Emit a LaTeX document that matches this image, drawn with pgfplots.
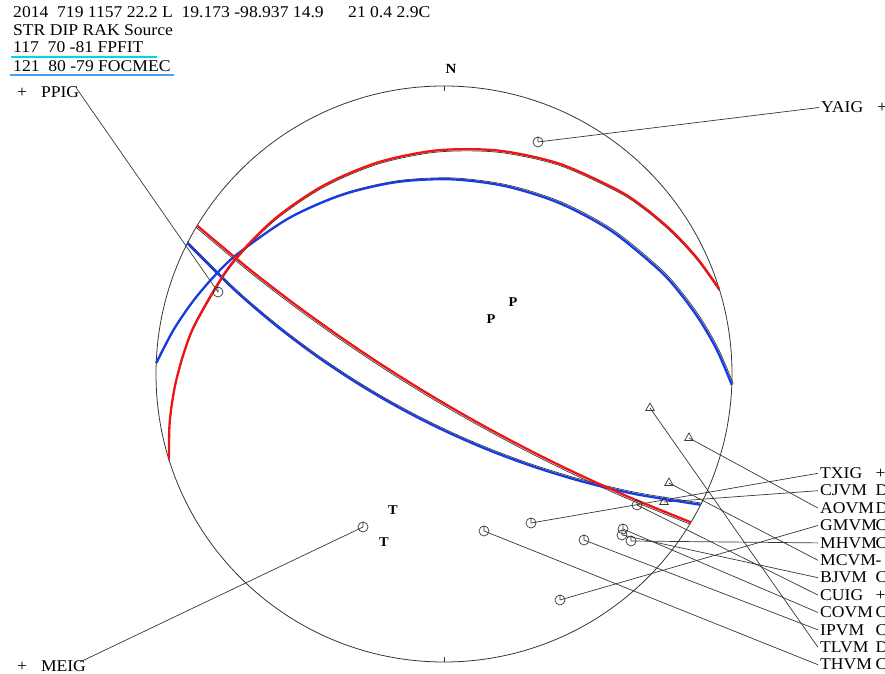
\documentclass[border=0pt]{standalone}
\usepackage{pgfplots}
\pgfplotsset{compat=1.18}
\usepackage{pgfplotstable}
\usepackage{fontspec}
\setmainfont{Liberation Serif}[FakeStretch=1.07]

\definecolor{solred}{RGB}{240,20,20}
\definecolor{solblue}{RGB}{25,60,225}
\definecolor{ulcyan}{RGB}{0,215,230}
\definecolor{ulblue}{RGB}{70,160,235}
\definecolor{netgray}{RGB}{55,55,55}

% Lower-hemisphere stereographic traces (E, N on the unit net)
% FPFIT  117/70/-81 : nodal plane and auxiliary plane (272/22)
\pgfplotstableread{
E N
 0.8910 -0.4540
 0.6599 -0.4162
 0.4721 -0.3712
 0.3125 -0.3223
 0.1715 -0.2707
 0.0423 -0.2159
-0.0801 -0.1571
-0.1995 -0.0927
-0.3198 -0.0203
-0.4445  0.0634
-0.5778  0.1638
-0.7246  0.2893
-0.8910  0.4540
}\fpfitA
\pgfplotstableread{
E N
-0.9993  0.0377
-0.9404  0.1512
-0.8720  0.2522
-0.7963  0.3412
-0.7148  0.4185
-0.5398  0.5403
-0.3549  0.6217
-0.1653  0.6662
 0.0255  0.6759
 0.2151  0.6517
 0.4007  0.5932
 0.5789  0.4981
 0.7443  0.3635
 0.8198  0.2803
 0.8886  0.1858
 0.9492  0.0798
 0.9993 -0.0377
}\fpfitB
% FOCMEC 121/80/-79 : nodal plane and auxiliary plane (253/15)
\pgfplotstableread{
E N
 0.8572 -0.5150
 0.6414 -0.4270
 0.4674 -0.3487
 0.3200 -0.2767
 0.1896 -0.2085
 0.0694 -0.1420
-0.0450 -0.0750
-0.1580 -0.0053
-0.2731  0.0694
-0.3945  0.1527
-0.5273  0.2490
-0.6782  0.3657
-0.8572  0.5150
}\focmecA
\pgfplotstableread{
E N
-0.9551 -0.2962
-0.9525 -0.1676
-0.9347 -0.0442
-0.9035  0.0725
-0.8602  0.1819
-0.7433  0.3756
-0.5939  0.5333
-0.4199  0.6535
-0.2280  0.7352
-0.0235  0.7765
 0.1880  0.7758
 0.4005  0.7302
 0.6063  0.6367
 0.7039  0.5711
 0.7957  0.4925
 0.8801  0.4008
 0.9551  0.2962
}\focmecB

% Stations: compressions (circles) and dilatations (triangles)
\pgfplotstableread{
E N
 0.3264  0.8056
-0.7847  0.2847
-0.2813 -0.5313
 0.3021 -0.5174
 0.4028 -0.7847
 0.6493 -0.5799
 0.6181 -0.5590
 0.6701 -0.4549
 0.6215 -0.5382
 0.4861 -0.5764
 0.1389 -0.5451
}\compr
\pgfplotstableread{
E N
 0.7639 -0.4444
 0.8507 -0.2222
 0.7813 -0.3785
 0.7153 -0.1181
}\dilat

\pgfdeclareplotmark{stn}{%
  \pgfpathcircle{\pgfpointorigin}{\pgfplotmarksize}%
  \pgfpathmoveto{\pgfpointorigin}%
  \pgfpathlineto{\pgfqpoint{0pt}{\pgfplotmarksize}}%
  \pgfusepathqstroke}

\begin{document}
\begin{tikzpicture}[font=\fontsize{16.5}{19}\selectfont,
  lbl/.style={anchor=west, inner sep=0pt, text height=10.5bp, text depth=0bp},
  hdr/.style={anchor=base west, inner sep=0pt},
  pt/.style={inner sep=0pt, font=\fontsize{13.5}{14}\selectfont\bfseries},
  stl/.style={netgray, line width=0.7bp, no marks}]
\path[use as bounding box] (0,0) rectangle (885bp,674bp);
\begin{axis}[
  at={(0,0)}, anchor=south west,
  x=288bp, y=288bp,
  xmin=-1.54167, xmax=1.53125, ymin=-1.04167, ymax=1.29861,
  hide axis, clip=false,
]
% header
\node[hdr] at (axis cs:-1.4965,1.2361) {2014\ \ 719 1157 22.2 L\ \ 19.173 -98.937 14.9};
\node[hdr] at (axis cs:-0.3333,1.2361) {21 0.4 2.9C};
\node[hdr] at (axis cs:-1.4965,1.1753) {STR DIP RAK Source};
\node[hdr] at (axis cs:-1.4965,1.1146) {117\ \ 70 -81 FPFIT};
\node[hdr] at (axis cs:-1.4965,1.0503) {121\ \ 80 -79 FOCMEC};
\draw[ulcyan, line width=2bp] (axis cs:-1.5035,1.1024) -- (axis cs:-0.9965,1.1024);
\draw[ulblue, line width=2bp] (axis cs:-1.5069,1.0399) -- (axis cs:-0.9375,1.0399);

% net
\draw[netgray, line width=0.8bp] (axis cs:0,0) circle[radius=288bp];
\draw[netgray, line width=0.8bp] (axis cs:0,1) -- (axis cs:0,0.984);
\draw[netgray, line width=0.8bp] (axis cs:0,-1) -- (axis cs:0,-0.982);
\node[anchor=base, inner sep=0pt, font=\fontsize{14}{14}\selectfont\bfseries] at (axis cs:0.0243,1.0451) {N};

% station rays to labels
\addplot[stl] coordinates {(0.3264,0.8056) (1.3021,0.9253)};
\addplot[stl] coordinates {(-0.7847,0.2847) (-1.2743,0.9896)};
\addplot[stl] coordinates {(-0.2813,-0.5313) (-1.2639,-1.0000)};
\addplot[stl] coordinates {(0.3021,-0.5174) (1.2986,-0.3448)};
\addplot[stl] coordinates {(0.7639,-0.4444) (1.2986,-0.4052)};
\addplot[stl] coordinates {(0.8507,-0.2222) (1.2986,-0.4656)};
\addplot[stl] coordinates {(0.4028,-0.7847) (1.2986,-0.5260)};
\addplot[stl] coordinates {(0.6493,-0.5799) (1.2986,-0.5865)};
\addplot[stl] coordinates {(0.7813,-0.3785) (1.2986,-0.6469)};
\addplot[stl] coordinates {(0.6181,-0.5590) (1.2986,-0.7073)};
\addplot[stl] coordinates {(0.6701,-0.4549) (1.2986,-0.7677)};
\addplot[stl] coordinates {(0.6215,-0.5382) (1.2986,-0.8281)};
\addplot[stl] coordinates {(0.4861,-0.5764) (1.2986,-0.8885)};
\addplot[stl] coordinates {(0.7153,-0.1181) (1.2986,-0.9490)};
\addplot[stl] coordinates {(0.1389,-0.5451) (1.2986,-1.0094)};

% station labels
\node[lbl] at (axis cs:1.3090,0.9253) {YAIG};   \node[lbl] at (axis cs:1.5035,0.9253) {+};
\node[lbl] at (axis cs:-1.4826,0.9792) {+};     \node[lbl] at (axis cs:-1.4000,0.9792) {PPIG};
\node[lbl] at (axis cs:-1.4826,-1.0139) {+};    \node[lbl] at (axis cs:-1.4000,-1.0139) {MEIG};
\foreach \nm/\pl/\yy in {TXIG/+/-0.3448, CJVM/D/-0.4052, AOVM/D/-0.4656, GMVM/C/-0.5260,
  MHVM/C/-0.5865, MCVM/-/-0.6469, BJVM/C/-0.7073, CUIG/+/-0.7677, COVM/C/-0.8281,
  IPVM/C/-0.8885, TLVM/D/-0.9490, THVM/C/-1.0094}{
  \edef\tmp{\noexpand\node[lbl] at (axis cs:1.3056,\yy) {\nm};
            \noexpand\node[lbl] at (axis cs:1.4983,\yy) {\pl};}
  \tmp
}

% fault-plane traces: thin originals and coloured solutions
\addplot[netgray, line width=0.7bp, smooth, yshift=1.8bp] table {\fpfitA};
\addplot[netgray, line width=0.7bp, smooth, xshift=1.4bp, yshift=1.4bp] table {\fpfitB};
\addplot[netgray, line width=0.7bp, smooth, xshift=-1bp, yshift=-1.8bp] table {\focmecA};
\addplot[netgray, line width=0.7bp, smooth, yshift=-1.7bp] table {\focmecB};
\addplot[solblue, line width=2.3bp, smooth] table {\fpfitA};
\addplot[solblue, line width=2.3bp, smooth] table {\fpfitB};
\addplot[solred, line width=2.3bp, smooth] table {\focmecA};
\addplot[solred, line width=2.3bp, smooth] table {\focmecB};

% P and T axes
\node[pt] at (axis cs:0.2396,0.2500) {P};
\node[pt] at (axis cs:0.1632,0.1910) {P};
\node[pt] at (axis cs:-0.1771,-0.4722) {T};
\node[pt] at (axis cs:-0.2083,-0.5833) {T};

% polarities
\addplot[only marks, mark=stn, mark size=5bp, mark options={netgray, line width=0.7bp}] table {\compr};
\addplot[only marks, mark=triangle, mark size=5bp, mark options={netgray, line width=0.7bp}] table {\dilat};
\end{axis}
\end{tikzpicture}
\end{document}
